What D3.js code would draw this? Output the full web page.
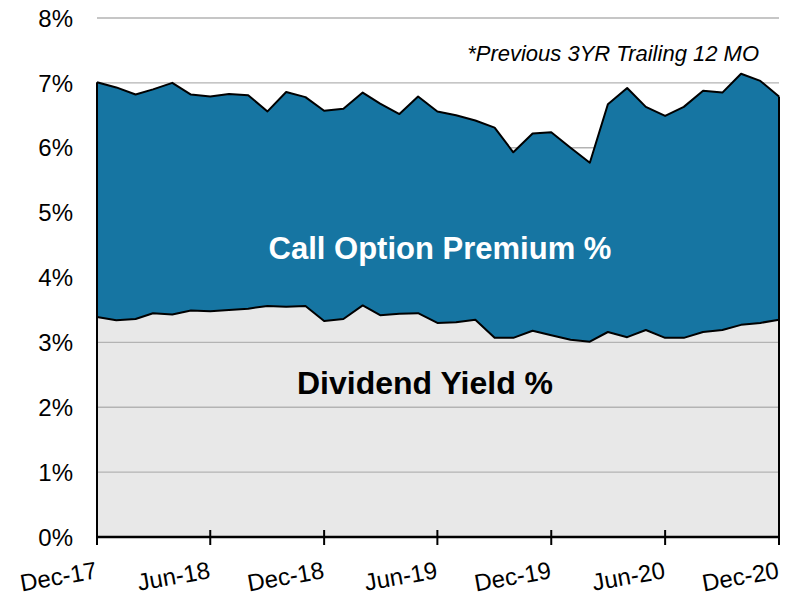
<!DOCTYPE html>
<html>
<head>
<meta charset="utf-8">
<script src="https://cdn.jsdelivr.net/npm/d3@7"></script>
<style>
  body { margin: 0; background: #fff; }
  svg text { font-family: "Liberation Sans", Arial, sans-serif; }
</style>
</head>
<body>
<div id="chart"></div>
<script>
// Data (monthly, Dec-17 .. Dec-20)
const months = d3.range(37).map(i => new Date(2017, 11 + i, 1));
const dividendYield = [3.39, 3.34, 3.36, 3.45, 3.43, 3.49, 3.48, 3.50, 3.52, 3.56, 3.55, 3.56,
    3.33, 3.36, 3.57, 3.42, 3.44, 3.45, 3.30, 3.31, 3.35, 3.07, 3.07, 3.18,
    3.11, 3.04, 3.01, 3.16, 3.08, 3.19, 3.07, 3.07, 3.16, 3.19, 3.27, 3.30, 3.35];
const callPremium = [3.62, 3.59, 3.46, 3.45, 3.57, 3.33, 3.31, 3.33, 3.29, 3.00, 3.31, 3.22,
    3.24, 3.24, 3.28, 3.26, 3.08, 3.34, 3.26, 3.19, 3.07, 3.24, 2.86, 3.04,
    3.13, 2.96, 2.76, 3.51, 3.84, 3.44, 3.42, 3.56, 3.72, 3.66, 3.87, 3.73, 3.44];
const yTicks = [0, 1, 2, 3, 4, 5, 6, 7, 8];
const xTickIdx = [0, 6, 12, 18, 24, 30, 36];

const width = 788, height = 599;
const margin = { top: 18, right: 9, bottom: 62, left: 97 };
const innerW = width - margin.left - margin.right;
const innerH = height - margin.top - margin.bottom;

const svg = d3.select('#chart').append('svg')
    .attr('width', width)
    .attr('height', height);

const g = svg.append('g')
    .attr('transform', `translate(${margin.left},${margin.top})`);

const x = d3.scaleTime().domain([months[0], months[36]]).range([0, innerW]);
const y = d3.scaleLinear().domain([0, 8]).range([innerH, 0]);

// Gridlines
g.selectAll('.grid')
    .data(yTicks.filter(d => d > 0))
    .enter().append('line')
    .attr('x1', 0).attr('x2', innerW)
    .attr('y1', d => y(d)).attr('y2', d => y(d))
    .attr('stroke', '#b3b3b3')
    .attr('stroke-width', 1.3);

// Stacked areas
const rows = months.map((m, i) => ({ date: m, div: dividendYield[i], prem: callPremium[i] }));
const stack = d3.stack().keys(['div', 'prem'])(rows);
const fills = { div: '#e8e8e8', prem: '#1675a2' };

const area = d3.area()
    .x(d => x(d.data.date))
    .y0(d => y(d[0]))
    .y1(d => y(d[1]));

const line = d3.line()
    .x(d => x(d.data.date))
    .y(d => y(d[1]));

stack.slice().reverse().forEach(s => {
    g.append('path')
        .datum(s)
        .attr('fill', fills[s.key])
        .attr('d', area);
});

// gridlines show through the light dividend band
g.selectAll('.grid2')
    .data(yTicks.filter(d => d > 0 && d <= 3))
    .enter().append('line')
    .attr('x1', 0).attr('x2', innerW)
    .attr('y1', d => y(d)).attr('y2', d => y(d))
    .attr('stroke', '#b3b3b3')
    .attr('stroke-width', 1.3);

stack.forEach(s => {
    g.append('path')
        .datum(s)
        .attr('fill', 'none')
        .attr('stroke', '#000')
        .attr('stroke-width', 2)
        .attr('stroke-linejoin', 'round')
        .attr('d', line);
});

// Left and right edges of the filled region
const total = stack[1];
[0, 36].forEach(i => {
    g.append('line')
        .attr('x1', x(months[i])).attr('x2', x(months[i]))
        .attr('y1', y(0)).attr('y2', y(total[i][1]))
        .attr('stroke', '#000')
        .attr('stroke-width', 2);
});

// Y axis labels
g.selectAll('.ylab')
    .data(yTicks)
    .enter().append('text')
    .attr('x', -24)
    .attr('y', d => y(d))
    .attr('dy', '0.36em')
    .attr('text-anchor', 'end')
    .attr('font-size', 24)
    .attr('fill', '#000')
    .text(d => d + '%');

// X axis
const fmt = d3.timeFormat('%b-%y');
const xAxis = g.append('g')
    .attr('transform', `translate(0,${innerH})`);
xAxis.append('line')
    .attr('x1', 0).attr('x2', innerW)
    .attr('stroke', '#000').attr('stroke-width', 2.5);
xAxis.selectAll('.tick')
    .data(xTickIdx)
    .enter().append('line')
    .attr('x1', d => x(months[d])).attr('x2', d => x(months[d]))
    .attr('y1', -7).attr('y2', 8)
    .attr('stroke', '#000').attr('stroke-width', 2);
xAxis.selectAll('.xlab')
    .data(xTickIdx)
    .enter().append('text')
    .attr('text-anchor', 'end')
    .attr('font-size', 24)
    .attr('transform', d => `translate(${x(months[d]) + 1},${41}) rotate(-10)`)
    .text(d => fmt(months[d]));

// Annotations
g.append('text')
    .attr('x', 440 - margin.left)
    .attr('y', 259 - margin.top)
    .attr('text-anchor', 'middle')
    .attr('font-size', 31)
    .attr('font-weight', 'bold')
    .attr('fill', '#fff')
    .text('Call Option Premium %');

g.append('text')
    .attr('x', 425 - margin.left)
    .attr('y', 394 - margin.top)
    .attr('text-anchor', 'middle')
    .attr('font-size', 32)
    .attr('font-weight', 'bold')
    .attr('fill', '#000')
    .text('Dividend Yield %');

g.append('text')
    .attr('x', 759 - margin.left)
    .attr('y', 61 - margin.top)
    .attr('text-anchor', 'end')
    .attr('font-size', 22)
    .attr('font-style', 'italic')
    .attr('fill', '#000')
    .text('*Previous 3YR Trailing 12 MO');
</script>
</body>
</html>
